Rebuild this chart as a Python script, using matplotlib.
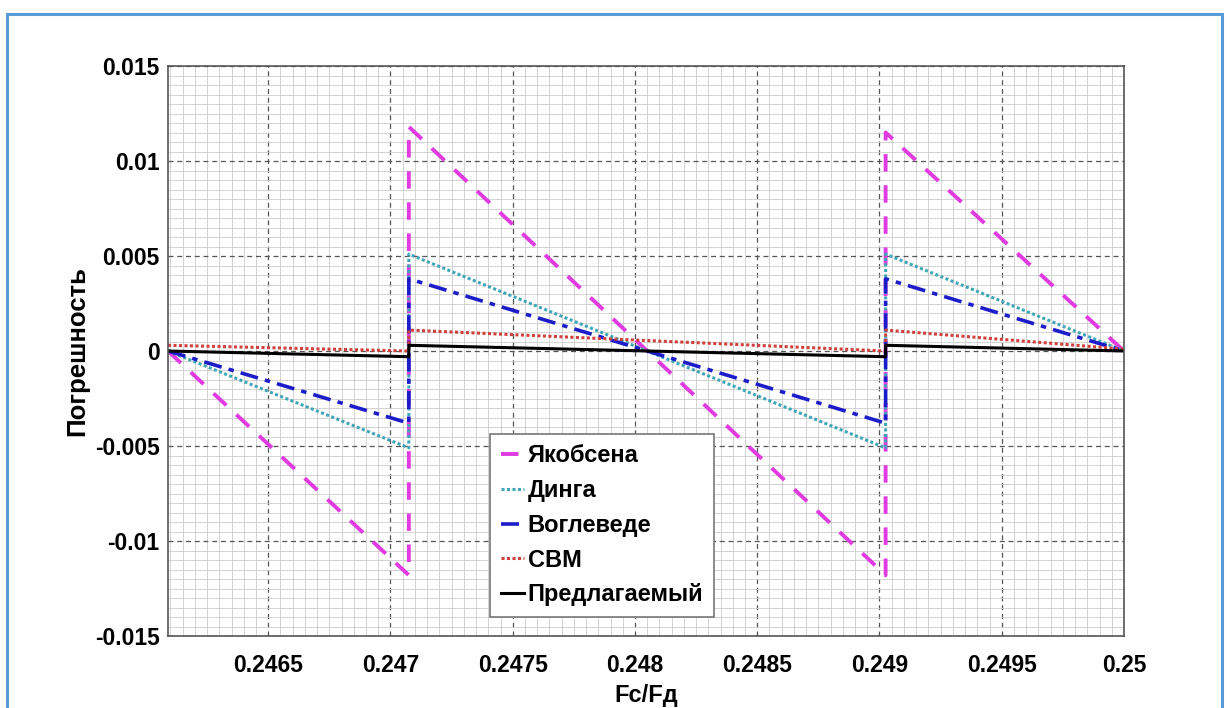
import matplotlib
matplotlib.use("Agg")
import matplotlib.pyplot as plt
from matplotlib.ticker import MultipleLocator, FixedLocator, FixedFormatter
from matplotlib.patches import Rectangle

# ---- data ----
x_pts = [0.24609, 0.247075, 0.247075, 0.249025, 0.249025, 0.25]
jakobsen = [0.0, -0.0118, 0.0118, -0.0118, 0.0115, 0.0]
dinga = [0.0, -0.0051, 0.0051, -0.0051, 0.0051, 0.0]
voglevede = [0.0, -0.0038, 0.0038, -0.0038, 0.0038, 0.0]
cbm = [0.0003, 0.0, 0.0011, 0.0, 0.0011, 0.0001]
proposed = [0.0, -0.0003, 0.0003, -0.0003, 0.0003, 0.0]

labels = ["Якобсена", "Динга", "Воглеведе", "СВМ", "Предлагаемый"]
xticks = [0.2465, 0.247, 0.2475, 0.248, 0.2485, 0.249, 0.2495, 0.25]
xticklabels = ["0.2465", "0.247", "0.2475", "0.248", "0.2485", "0.249", "0.2495", "0.25"]
yticks = [-0.015, -0.01, -0.005, 0.0, 0.005, 0.01, 0.015]
yticklabels = ["-0.015", "-0.01", "-0.005", "0", "0.005", "0.01", "0.015"]

plt.rcParams['font.family'] = ['Liberation Sans', 'DejaVu Sans']
plt.rcParams['font.weight'] = 'bold'

fig = plt.figure(figsize=(12.3, 7.08), dpi=100)
fig.patches.append(Rectangle((7/1230, -0.05), (1222-7)/1230, 1.05 - 14/708,
                             transform=fig.transFigure, fill=False,
                             edgecolor='#5b9bd5', linewidth=2.2, zorder=0))
ax = fig.add_axes([168/1230, 1-636/708, (1124-168)/1230, (636-66)/708])

ax.plot(x_pts, jakobsen, color='#e03be0', ls=(0, (4.5, 3.5)), lw=2.8, label=labels[0])
ax.plot(x_pts, dinga, color='#3fa6b8', ls=(0, (1, 0.8)), lw=2.2, label=labels[1])
ax.plot(x_pts, voglevede, color='#1c1cc8', ls=(0, (5, 2, 1.5, 2)), lw=2.6, label=labels[2])
ax.plot(x_pts, cbm, color='#d0403c', ls=(0, (1, 0.8)), lw=2.2, label=labels[3])
ax.plot(x_pts, proposed, color='black', ls='-', lw=2.2, label=labels[4])

ax.set_xlim(0.24609, 0.25)
ax.set_ylim(-0.015, 0.015)
ax.xaxis.set_major_locator(FixedLocator(xticks))
ax.xaxis.set_major_formatter(FixedFormatter(xticklabels))
ax.yaxis.set_major_locator(FixedLocator(yticks))
ax.yaxis.set_major_formatter(FixedFormatter(yticklabels))
ax.xaxis.set_minor_locator(MultipleLocator(0.00005))
ax.yaxis.set_minor_locator(MultipleLocator(0.0005))

ax.grid(which='major', color='#555555', ls=(0, (4, 3)), lw=0.9)
ax.grid(which='minor', color='#cccccc', ls='-', lw=0.6)
ax.set_axisbelow(True)
ax.tick_params(which='both', direction='in', length=0)
ax.tick_params(axis='x', which='major', labelsize=16.5, pad=13)
ax.tick_params(axis='y', which='major', labelsize=16.5, pad=6)
for lab in ax.get_xticklabels() + ax.get_yticklabels():
    lab.set_fontweight('bold')
for s in ax.spines.values():
    s.set_color('#555555')
    s.set_linewidth(1.2)

ax.set_xlabel("Fc/Fд", fontsize=17, fontweight='bold', labelpad=5)
ax.set_ylabel("Погрешность", fontsize=18.5, fontweight='bold', labelpad=4)

leg = ax.legend(loc='lower left', bbox_to_anchor=((490-168)/956, (636-617)/570),
                borderaxespad=0, handlelength=1.0, handletextpad=0.15, labelspacing=0.5,
                borderpad=0.45, fancybox=False, framealpha=1, edgecolor='#777777',
                prop={'weight': 'bold', 'size': 17})
leg.get_frame().set_linewidth(1.2)

fig.savefig("out.png", dpi=100)
